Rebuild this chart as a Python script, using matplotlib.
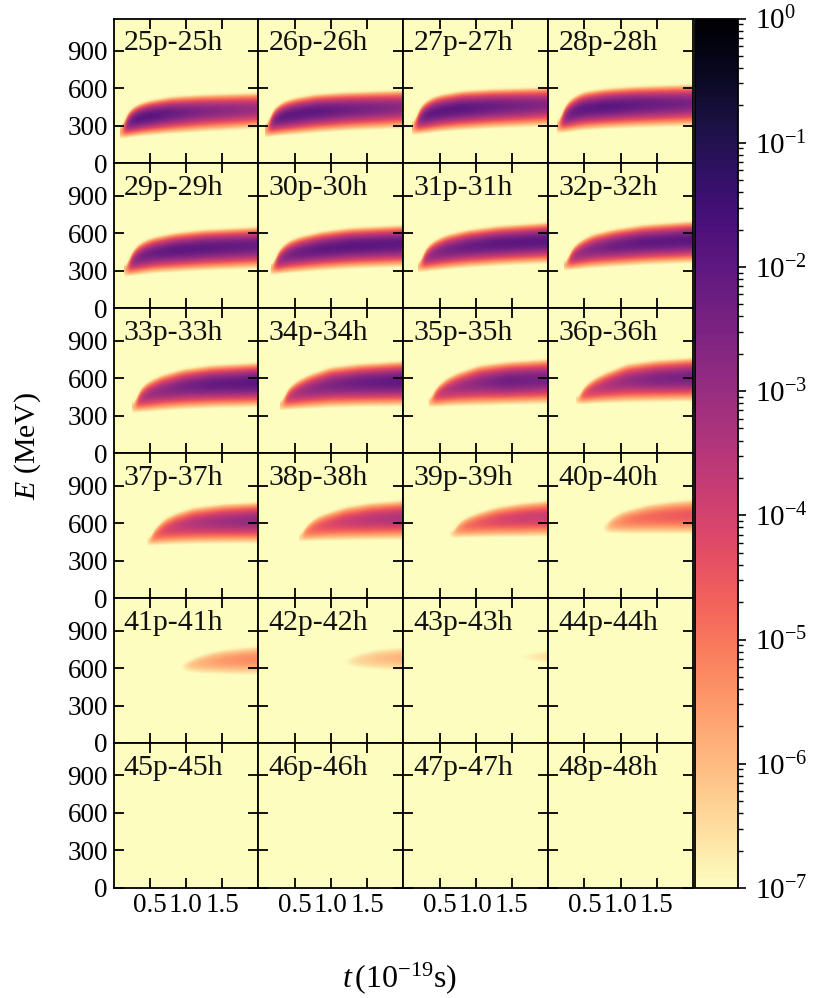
import numpy as np
import matplotlib
matplotlib.use('Agg')
import matplotlib.pyplot as plt
from matplotlib.colors import LogNorm
from matplotlib import ticker

plt.rcParams['font.family'] = ['Liberation Serif', 'DejaVu Serif']
plt.rcParams['mathtext.fontset'] = 'custom'
plt.rcParams['mathtext.rm'] = 'Liberation Serif'
plt.rcParams['mathtext.it'] = 'Liberation Serif:italic'

# band edges (MeV) and log10 of the ridge value
t_vals = {
    25: [.10, .13, .17, .23, .33, .5, .8, 1.2, 2.0],
    26: [.10, .13, .17, .23, .33, .5, .8, 1.2, 2.0],
    27: [.13, .16, .2, .26, .36, .5, .8, 1.2, 2.0],
    28: [.13, .16, .2, .26, .36, .5, .8, 1.2, 2.0],
    29: [.16, .19, .23, .29, .39, .55, .85, 1.25, 2.0],
    30: [.18, .21, .25, .31, .41, .57, .87, 1.27, 2.0],
    31: [.21, .24, .28, .34, .44, .6, .9, 1.3, 2.0],
    32: [.23, .26, .3, .36, .46, .62, .92, 1.32, 2.0],
    33: [.27, .3, .34, .4, .5, .66, .96, 1.36, 2.0],
    34: [.31, .34, .38, .44, .54, .7, 1.0, 1.4, 2.0],
    35: [.36, .39, .43, .49, .59, .75, 1.05, 1.45, 2.0],
    36: [.4, .43, .47, .53, .63, .79, 1.09, 1.49, 2.0],
    37: [.48, .51, .55, .6, .7, .85, 1.1, 1.5, 2.0],
    38: [.57, .6, .64, .7, .8, .95, 1.2, 1.55, 2.0],
    39: [.66, .7, .74, .8, .9, 1.05, 1.3, 1.6, 2.0],
    40: [.78, .82, .87, .93, 1.03, 1.18, 1.4, 1.7, 2.0],
    41: [.95, 1.0, 1.05, 1.12, 1.22, 1.36, 1.55, 1.8, 2.0],
    42: [1.2, 1.25, 1.32, 1.4, 1.5, 1.62, 1.75, 1.9, 2.0],
    43: [1.6, 1.68, 1.76, 1.84, 1.92, 2.0],
}
hi_vals = {
    25: [270, 340, 400, 440, 480, 512, 542, 557, 572],
    26: [285, 355, 415, 455, 500, 532, 562, 577, 593],
    27: [305, 375, 435, 480, 525, 557, 587, 602, 617],
    28: [315, 385, 445, 495, 545, 582, 607, 624, 639],
    29: [320, 385, 445, 490, 540, 577, 612, 637, 660],
    30: [330, 395, 450, 495, 545, 582, 622, 652, 673],
    31: [345, 410, 465, 510, 555, 597, 637, 667, 695],
    32: [355, 415, 465, 510, 555, 602, 642, 677, 705],
    33: [385, 445, 500, 545, 588, 632, 682, 712, 732],
    34: [400, 455, 505, 545, 590, 637, 697, 724, 745],
    35: [425, 475, 520, 555, 605, 652, 712, 740, 761],
    36: [440, 485, 525, 560, 605, 652, 722, 752, 772],
    37: [470, 510, 550, 585, 640, 685, 732, 760, 775],
    38: [500, 540, 575, 610, 655, 690, 737, 770, 789],
    39: [530, 565, 595, 630, 660, 695, 737, 765, 789],
    40: [590, 620, 645, 670, 700, 725, 757, 780, 795],
    41: [640, 655, 670, 690, 710, 735, 755, 770, 780],
    42: [670, 685, 705, 720, 735, 750, 760, 766, 770],
    43: [695, 705, 718, 728, 735, 741],
}
lo_vals = {
    25: [200, 202, 206, 210, 217, 227, 239, 254, 280],
    26: [211, 213, 217, 221, 225, 232, 247, 262, 282],
    27: [232, 233, 235, 238, 244, 253, 267, 280, 299],
    28: [245, 246, 248, 251, 258, 267, 277, 287, 299],
    29: [259, 260, 262, 265, 271, 282, 292, 304, 320],
    30: [272, 273, 275, 278, 283, 290, 304, 318, 333],
    31: [293, 294, 296, 299, 304, 312, 327, 342, 360],
    32: [307, 308, 310, 313, 317, 324, 335, 349, 365],
    33: [328, 329, 331, 333, 336, 342, 352, 362, 370],
    34: [347, 348, 350, 352, 354, 358, 366, 372, 377],
    35: [373, 374, 375, 376, 378, 380, 383, 389, 395],
    36: [395, 396, 397, 398, 400, 403, 408, 412, 416],
    37: [426, 426, 427, 428, 430, 432, 435, 438, 441],
    38: [458, 458, 459, 460, 461, 463, 465, 467, 470],
    39: [486, 486, 487, 487, 488, 489, 491, 492, 494],
    40: [534, 529, 524, 522, 520, 519, 518, 517, 516],
    41: [585, 578, 572, 566, 560, 556, 552, 550, 548],
    42: [635, 625, 612, 603, 596, 590, 586, 582, 580],
    43: [680, 670, 660, 652, 645, 640],
}
peak_vals = {
    25: [-7, -4.5, -3.2, -2.4, -2.0, -1.9, -2.2, -2.6, -3.1],
    26: [-7, -4.5, -3.3, -2.5, -2.1, -2.0, -2.0, -2.3, -2.8],
    27: [-7, -4.5, -3.3, -2.5, -2.1, -2.0, -1.95, -2.2, -2.7],
    28: [-7, -4.5, -3.4, -2.6, -2.2, -2.05, -1.95, -2.1, -2.5],
    29: [-7, -4.6, -3.6, -2.9, -2.5, -2.25, -2.0, -2.0, -2.2],
    30: [-7, -4.7, -3.7, -3.0, -2.6, -2.3, -2.05, -1.95, -2.0],
    31: [-7, -4.8, -3.9, -3.2, -2.8, -2.5, -2.2, -2.0, -1.95],
    32: [-7, -4.9, -4.0, -3.4, -3.0, -2.7, -2.3, -2.05, -1.95],
    33: [-7, -5, -4.2, -3.6, -3.2, -2.9, -2.5, -2.15, -1.95],
    34: [-7, -5.2, -4.4, -3.8, -3.4, -3.0, -2.6, -2.25, -2.0],
    35: [-7, -5.3, -4.6, -4.0, -3.6, -3.25, -2.8, -2.3, -2.45],
    36: [-7, -5.5, -4.8, -4.3, -3.9, -3.5, -3.0, -2.6, -2.4],
    37: [-7, -5.8, -5.2, -4.8, -4.3, -3.9, -3.5, -3.15, -2.9],
    38: [-7, -6, -5.5, -5, -4.6, -4.3, -3.9, -3.6, -3.4],
    39: [-7, -6.1, -5.7, -5.3, -4.9, -4.6, -4.2, -3.95, -3.85],
    40: [-7, -6.3, -5.9, -5.6, -5.3, -5.0, -4.8, -4.6, -4.5],
    41: [-7, -6.6, -6.3, -6.1, -5.9, -5.7, -5.5, -5.35, -5.3],
    42: [-7, -6.8, -6.6, -6.4, -6.3, -6.15, -6.05, -5.95, -5.9],
    43: [-7, -6.9, -6.8, -6.7, -6.6, -6.55],
}
labels = list(range(25, 49))
x_ticks = [0.5, 1.0, 1.5]
x_ticklabels = ['0.5', '1.0', '1.5']
y_ticks = [0, 300, 600, 900]

W, H = 813, 998
left, top, pw, ph = 113.5, 18.5, 144.9, 144.9
cmap = plt.get_cmap('magma_r')
norm = LogNorm(vmin=1e-7, vmax=1)
frac = np.linspace(0, 1, 61)
kernel = np.ones(15) / 15

def fine(tt, t, v):
    # denser columns between the read samples, lightly smoothed so no kinks show
    f = np.interp(tt, t, v)
    pad = np.r_[np.full(7, f[0]), f, np.full(7, f[-1])]
    return np.convolve(pad, kernel, mode='valid')

fig = plt.figure(figsize=(W / 100, H / 100), dpi=100)
for i, n in enumerate(labels):
    row, col = divmod(i, 4)
    ax = fig.add_axes([(left + col * pw) / W, 1 - (top + (row + 1) * ph) / H, pw / W, ph / H])
    ax.set_facecolor(cmap(0.0))
    if n in t_vals:
        t = np.array(t_vals[n])
        tt = np.linspace(t[0], t[-1], 200)
        lo = fine(tt, t, lo_vals[n])
        hi = fine(tt, t, hi_vals[n])
        pk = fine(tt, t, peak_vals[n])
        X = np.tile(tt, (len(frac), 1))
        Y = lo + np.outer(frac, hi - lo)
        C = 10.0 ** (pk - np.outer(np.abs(2 * frac ** 1.15 - 1) ** 1.9, pk + 7))
        ax.pcolormesh(X, Y, C, cmap=cmap, norm=norm, shading='gouraud')
    ax.set_xlim(0, 2)
    ax.set_ylim(0, 1160)
    ax.set_xticks(x_ticks)
    ax.set_yticks(y_ticks)
    ax.tick_params(direction='in', top=True, right=True, length=7.5, width=1.3, labelsize=19.5)
    ax.tick_params(labelbottom=row == 5, labelleft=col == 0, pad=4)
    if row == 5:
        ax.set_xticklabels(x_ticklabels)
    for s in ax.spines.values():
        s.set_linewidth(1.3)
    ax.text(0.07, 0.78, f'{n}p-{n}h', transform=ax.transAxes, fontsize=21.5, color='#111111')

cax = fig.add_axes([695 / W, 1 - (top + 6 * ph) / H, 43 / W, 6 * ph / H])
sm = plt.cm.ScalarMappable(norm=norm, cmap=cmap)
cb = fig.colorbar(sm, cax=cax)
cb.set_ticks([10.0 ** k for k in range(-7, 1)])
cb.ax.yaxis.set_major_formatter(ticker.LogFormatterMathtext())
cb.ax.yaxis.set_minor_locator(ticker.LogLocator(base=10, subs=np.arange(2, 10) * 0.1, numticks=10))
cb.ax.tick_params(which='major', length=6, width=1.2, labelsize=21, pad=6)
cb.ax.tick_params(which='minor', length=3.5, width=1.0)
cb.outline.set_linewidth(1.3)

fig.text(28 / W, 1 - 446 / H, r'$E$ (MeV)', rotation=90, ha='center', va='center', fontsize=21.5)
fig.text(400 / W, 1 - 978 / H, r'$t\,(10^{-19}\mathrm{s})$', ha='center', va='center', fontsize=23)

fig.savefig('out.png', dpi=100)
